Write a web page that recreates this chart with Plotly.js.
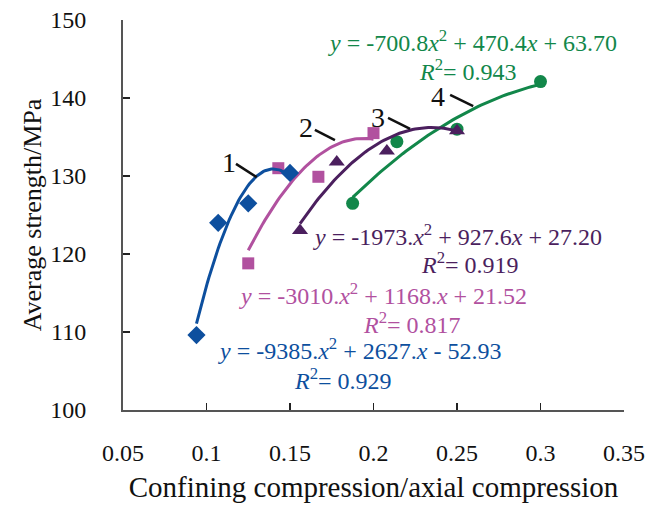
<!DOCTYPE html>
<html>
<head>
<meta charset="utf-8">
<script src="https://cdn.plot.ly/plotly-3.0.1.min.js"></script>
<style>html,body{margin:0;padding:0;background:#fff;}#chart{width:648px;height:508px;}</style>
</head>
<body>
<div id="chart"></div>
<script>
// Measured data points
const blueX = [0.094, 0.107, 0.125, 0.150];
const blueY = [109.6, 124.0, 126.5, 130.4];
const magX  = [0.125, 0.143, 0.167, 0.200];
const magY  = [118.8, 131.0, 129.9, 135.5];
const purX  = [0.156, 0.178, 0.208, 0.250];
const purY  = [123.0, 131.8, 133.2, 135.8];
const grnX  = [0.1875, 0.214, 0.250, 0.300];
const grnY  = [126.5, 134.4, 136.0, 142.1];

// Printed trend-line coefficients [a, b, c] for y = a x^2 + b x + c
const blueFit = [-9385, 2627, -52.93];
const magFit  = [-3010, 1168, 21.52];
const purFit  = [-1973, 927.6, 27.20];
const grnFit  = [-700.8, 470.4, 63.70];

const xTicks = [0.05, 0.1, 0.15, 0.2, 0.25, 0.3, 0.35];
const xTickText = ['0.05', '0.1', '0.15', '0.2', '0.25', '0.3', '0.35'];
const yTicks = [100, 110, 120, 130, 140, 150];
const yTickText = ['100', '110', '120', '130', '140', '150'];
const PAD = '\u00a0\u00a0\u00a0';

const C = {blue:'#0d4f9e', mag:'#b1519f', pur:'#4b1f5e', grn:'#12874a'};
const FONT = '"Liberation Serif", "Times New Roman", serif';

function curve(coef, xs) {
  const x0 = xs[0], x1 = xs[xs.length - 1], n = 60;
  const cx = [], cy = [];
  for (let i = 0; i <= n; i++) {
    const x = x0 + (x1 - x0) * i / n;
    cx.push(x); cy.push(coef[0] * x * x + coef[1] * x + coef[2]);
  }
  return {x: cx, y: cy};
}

const traces = [];
function addSeries(xs, ys, fit, color, symbol, size) {
  const c = curve(fit, xs);
  traces.push({x: c.x, y: c.y, mode: 'lines', line: {color: color, width: 3}, hoverinfo: 'skip', showlegend: false});
  traces.push({x: xs, y: ys, mode: 'markers', marker: {color: color, symbol: symbol, size: size}, showlegend: false});
}
addSeries(grnX, grnY, grnFit, C.grn, 'circle', 13);
addSeries(purX, purY, purFit, C.pur, 'triangle-up', 14);
addSeries(magX, magY, magFit, C.mag, 'square', 12);
addSeries(blueX, blueY, blueFit, C.blue, 'diamond', 14);

function ann(text, x, y, color, size) {
  return {xref: 'paper', yref: 'paper', x: x, y: y, text: text, showarrow: false,
          xanchor: 'center', yanchor: 'middle', font: {family: FONT, size: size, color: color}};
}
const EQ = 24;
const annotations = [
  ann('<i>y</i> = -9385.<i>x</i><sup>2</sup> + 2627.<i>x</i> - 52.93', 0.473, 0.156, C.blue, EQ),
  ann('<i>R</i><sup>2</sup>= 0.929', 0.439, 0.080, C.blue, EQ),
  ann('<i>y</i> = -3010.<i>x</i><sup>2</sup> + 1168.<i>x</i> + 21.52', 0.519, 0.297, C.mag, EQ),
  ann('<i>R</i><sup>2</sup>= 0.817', 0.577, 0.224, C.mag, EQ),
  ann('<i>y</i> = -1973.<i>x</i><sup>2</sup> + 927.6<i>x</i> + 27.20', 0.667, 0.448, C.pur, EQ),
  ann('<i>R</i><sup>2</sup>= 0.919', 0.693, 0.377, C.pur, EQ),
  ann('<i>y</i> = -700.8<i>x</i><sup>2</sup> + 470.4<i>x</i> + 63.70', 0.697, 0.946, C.grn, EQ),
  ann('<i>R</i><sup>2</sup>= 0.943', 0.689, 0.872, C.grn, EQ),
  ann('1', 0.212, 0.635, '#111', 28),
  ann('2', 0.365, 0.725, '#111', 28),
  ann('3', 0.509, 0.751, '#111', 28),
  ann('4', 0.629, 0.805, '#111', 28)
];
function lead(x0, y0, x1, y1) {
  return {type: 'line', xref: 'paper', yref: 'paper', x0: x0, y0: y0, x1: x1, y1: y1,
          line: {color: '#111', width: 2.5}};
}
const shapes = [
  lead(0.2255, 0.631, 0.267, 0.597),
  lead(0.383, 0.718, 0.423, 0.692),
  lead(0.529, 0.749, 0.573, 0.721),
  lead(0.653, 0.808, 0.699, 0.779)
];

const layout = {
  width: 648, height: 508,
  margin: {l: 123, r: 24, t: 20, b: 98},
  paper_bgcolor: '#fff', plot_bgcolor: '#fff',
  showlegend: false,
  font: {family: FONT, color: '#111'},
  xaxis: {
    range: [0.05, 0.35], tickvals: xTicks, ticktext: xTickText,
    ticks: 'inside', ticklen: 7, tickwidth: 1.5, tickcolor: '#222',
    showline: true, linecolor: '#555', linewidth: 2, showgrid: false, zeroline: false,
    tickfont: {family: FONT, size: 24, color: '#111'}, ticklabelstandoff: 20,
    title: {text: 'Confining compression/axial compression\u00a0\u00a0', font: {family: FONT, size: 29, color: '#111'}, standoff: 12}
  },
  yaxis: {
    range: [100, 150], tickvals: yTicks, ticktext: yTickText.map(t => t + PAD),
    ticks: 'inside', ticklen: 7, tickwidth: 1.5, tickcolor: '#222',
    showline: true, linecolor: '#555', linewidth: 2, showgrid: false, zeroline: false,
    tickfont: {family: FONT, size: 24, color: '#111'}, ticklabelstandoff: 12,
    title: {text: 'Average strength/MPa', font: {family: FONT, size: 26, color: '#111'}, standoff: 1}
  },
  annotations: annotations,
  shapes: shapes
};
Plotly.newPlot('chart', traces, layout, {displayModeBar: false, staticPlot: true});
</script>
</body>
</html>
